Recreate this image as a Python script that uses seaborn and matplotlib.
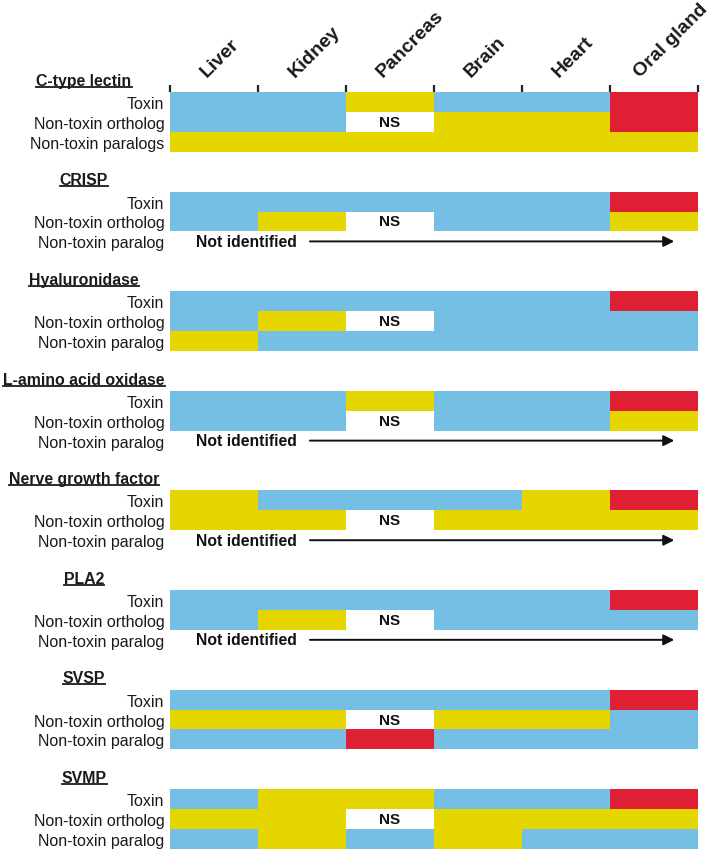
import numpy as np
import pandas as pd
import seaborn as sns
import matplotlib.pyplot as plt
import matplotlib.transforms as mtrans
from matplotlib.colors import ListedColormap
from matplotlib.lines import Line2D

# ---------------- data ----------------
tissues = ["Liver", "Kidney", "Pancreas", "Brain", "Heart", "Oral gland"]
families = ["C-type lectin", "CRISP", "Hyaluronidase", "L-amino acid oxidase",
            "Nerve growth factor", "PLA2", "SVSP", "SVMP"]
row_types = ["Toxin", "Non-toxin ortholog", "Non-toxin paralog"]

# B = blue, Y = yellow, R = red, NS = not significant, NI = not identified
ctype_lectin = [["B", "B", "Y", "B", "B", "R"],
                ["B", "B", "NS", "Y", "Y", "R"],
                ["Y", "Y", "Y", "Y", "Y", "Y"]]
crisp = [["B", "B", "B", "B", "B", "R"],
         ["B", "Y", "NS", "B", "B", "Y"],
         ["NI", "NI", "NI", "NI", "NI", "NI"]]
hyaluronidase = [["B", "B", "B", "B", "B", "R"],
                 ["B", "Y", "NS", "B", "B", "B"],
                 ["Y", "B", "B", "B", "B", "B"]]
laao = [["B", "B", "Y", "B", "B", "R"],
        ["B", "B", "NS", "B", "B", "Y"],
        ["NI", "NI", "NI", "NI", "NI", "NI"]]
ngf = [["Y", "B", "B", "B", "Y", "R"],
       ["Y", "Y", "NS", "Y", "Y", "Y"],
       ["NI", "NI", "NI", "NI", "NI", "NI"]]
pla2 = [["B", "B", "B", "B", "B", "R"],
        ["B", "Y", "NS", "B", "B", "B"],
        ["NI", "NI", "NI", "NI", "NI", "NI"]]
svsp = [["B", "B", "B", "B", "B", "R"],
        ["Y", "Y", "NS", "Y", "Y", "B"],
        ["B", "B", "R", "B", "B", "B"]]
svmp = [["B", "Y", "Y", "B", "B", "R"],
        ["Y", "Y", "NS", "Y", "Y", "Y"],
        ["B", "Y", "B", "Y", "B", "B"]]
family_data = [ctype_lectin, crisp, hyaluronidase, laao, ngf, pla2, svsp, svmp]

colors = {"B": "#74BFE3", "Y": "#E5D600", "R": "#DF1F33"}
code_val = {"B": 0, "Y": 1, "R": 2, "NS": np.nan, "NI": np.nan}

# ---------------- build matrix ----------------
rows, labels, row_info = [], [], []
for g, (fam, dat) in enumerate(zip(families, family_data)):
    for r, codes in enumerate(dat):
        rows.append([code_val[c] for c in codes])
        lab = row_types[r]
        if g == 0 and r == 2:
            lab = "Non-toxin paralogs"
        labels.append(lab)
        row_info.append((g, r, codes))
    if g < len(families) - 1:
        for _ in range(2):
            rows.append([np.nan] * 6)
            labels.append("")
            row_info.append(None)

df = pd.DataFrame(rows, columns=tissues)

# ---------------- figure ----------------
W, H = 720, 853
fig = plt.figure(figsize=(W / 100, H / 100), dpi=100)
ax = fig.add_axes([170 / W, 3 / H, 528 / W, (850 - 93) / H])

cmap = ListedColormap([colors["B"], colors["Y"], colors["R"]])
sns.heatmap(df, ax=ax, cmap=cmap, vmin=-0.5, vmax=2.5, cbar=False,
            xticklabels=False, yticklabels=False, linewidths=0)

label_font = ["Liberation Sans", "DejaVu Sans"]
bold_font = ["Liberation Sans", "DejaVu Sans"]

# row labels
ytick_pos = [i + 0.5 for i, l in enumerate(labels) if l]
ytick_lab = [l for l in labels if l]
ax.set_yticks(ytick_pos)
ax.set_yticklabels(ytick_lab, fontsize=11.5, family=label_font, color="#1a1a1a")
ax.tick_params(axis="y", length=0, pad=4)

# top ticks at column boundaries
ax.xaxis.tick_top()
ax.set_xticks(range(7))
ax.set_xticklabels([])
ax.tick_params(axis="x", which="major", top=True, bottom=False, length=5,
               width=1.6, direction="out", color="#222222", labeltop=False)

# column headers
for i, t in enumerate(tissues):
    shift = -0.05 if i < 5 else -0.12
    ax.text(i + 0.5 + shift, -0.62, t, rotation=45, rotation_mode="anchor",
            ha="left", va="bottom", fontsize=14, fontweight="bold",
            family=bold_font, color="#1a1a1a", clip_on=False)

# annotations inside the rows
title_texts = []
trans = mtrans.blended_transform_factory(fig.transFigure, ax.transData)
for i, info in enumerate(row_info):
    if info is None:
        continue
    g, r, codes = info
    y = i + 0.5
    if r == 0:
        tt = ax.text(84 / W, i - 0.36, families[g], transform=trans,
                     ha="center", va="baseline", fontsize=11.4, fontweight="bold",
                     family=bold_font, color="#1a1a1a", clip_on=False)
        title_texts.append((tt, i - 0.26))
    for j, c in enumerate(codes):
        if c == "NS":
            ax.text(j + 0.5, y, "NS", ha="center", va="center", fontsize=11,
                    fontweight="bold", family=bold_font, color="#111111")
    if all(c == "NI" for c in codes):
        ax.text(0.3, y, "Not identified", ha="left", va="center", fontsize=11.3,
                fontweight="bold", family=bold_font, color="#111111")
        ax.annotate("", xy=(5.73, y), xytext=(1.59, y),
                    arrowprops=dict(arrowstyle="-|>", lw=1.4, color="#111111",
                                    mutation_scale=16, shrinkA=0, shrinkB=0))

# underline the family titles
fig.canvas.draw()
renderer = fig.canvas.get_renderer()
for tt, yd in title_texts:
    bb = tt.get_window_extent(renderer)
    ypix = ax.transData.transform((0, yd))[1]
    fig.add_artist(Line2D([bb.x0 / W, bb.x1 / W], [ypix / H, ypix / H],
                          transform=fig.transFigure, color="#1a1a1a", lw=1.3))

fig.savefig("out.png", dpi=100)
